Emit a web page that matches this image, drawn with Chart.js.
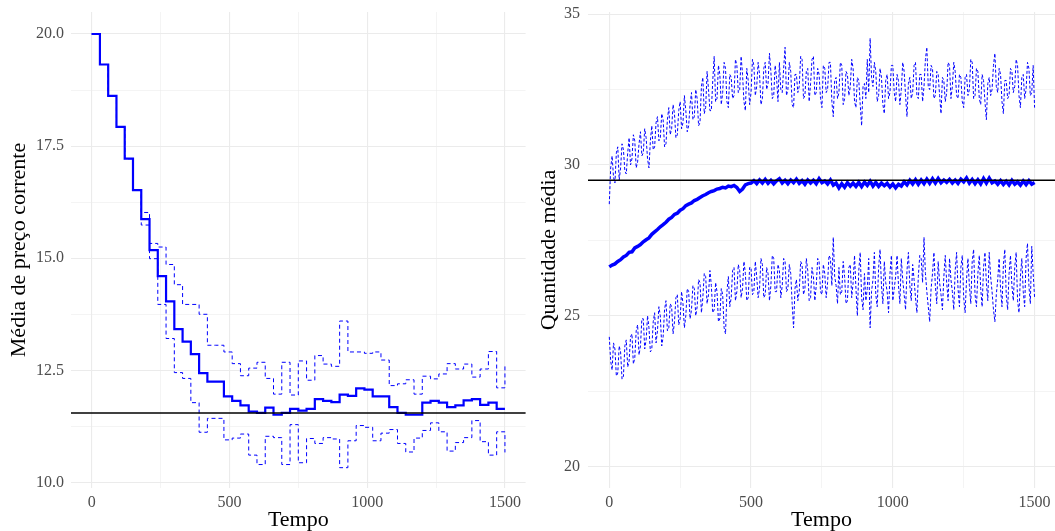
<!DOCTYPE html>
<html>
<head>
<meta charset="utf-8">
<script src="https://cdn.jsdelivr.net/npm/chart.js@4.4.1/dist/chart.umd.min.js"></script>
<style>
  body { margin: 0; background: #fff; width: 1055px; height: 531px; overflow: hidden; position: relative; }
  canvas { position: absolute; top: 0; }
  #preco { left: 0; }
  #quant { left: 530px; }
</style>
</head>
<body>
<canvas id="preco" width="530" height="531"></canvas>
<canvas id="quant" width="525" height="531"></canvas>
<script>
// painel esquerdo: preço corrente (degraus a cada 30 períodos)
const tempoP = [0, 30, 60, 90, 120, 150, 180, 210, 240, 270, 300, 330, 360, 390, 420, 450, 480, 510, 540, 570,
  600, 630, 660, 690, 720, 750, 780, 810, 840, 870, 900, 930, 960, 990, 1020, 1050, 1080, 1110, 1140, 1170,
  1200, 1230, 1260, 1290, 1320, 1350, 1380, 1410, 1440, 1470, 1500]
const precoMedio = [20.0, 19.32, 18.62, 17.93, 17.22, 16.52, 15.87, 15.18, 14.60, 14.04, 13.42, 13.14, 12.86, 12.44, 12.25, 12.25, 11.92, 11.82, 11.72, 11.58,
  11.55, 11.67, 11.51, 11.55, 11.64, 11.60, 11.64, 11.86, 11.82, 11.79, 11.96, 11.93, 12.10, 12.07, 11.92, 11.92, 11.68, 11.55, 11.51, 11.51,
  11.78, 11.82, 11.78, 11.68, 11.72, 11.83, 11.86, 11.73, 11.78, 11.64, 11.64]
const precoSup = [20.0, 19.32, 18.62, 17.93, 17.22, 16.52, 16.02, 15.33, 15.25, 14.86, 14.41, 13.97, 13.97, 13.75, 13.06, 13.06, 12.91, 12.65, 12.38, 12.55,
  12.68, 12.32, 11.97, 12.68, 11.95, 12.71, 12.28, 12.83, 12.64, 12.59, 13.60, 12.91, 12.91, 12.88, 12.91, 12.73, 12.16, 12.20, 12.29, 11.97,
  12.37, 12.31, 12.42, 12.65, 12.53, 12.64, 12.35, 12.53, 12.92, 12.11, 12.62]
const precoInf = [20.0, 19.32, 18.62, 17.93, 17.22, 16.52, 15.74, 14.99, 13.97, 13.21, 12.45, 12.32, 11.78, 11.12, 11.43, 11.43, 10.95, 10.99, 11.08, 10.61,
  10.40, 11.03, 11.00, 10.40, 11.29, 10.44, 10.98, 10.87, 11.00, 10.97, 10.33, 10.93, 11.27, 11.23, 10.93, 11.10, 11.18, 10.87, 10.68, 10.99,
  11.16, 11.33, 11.13, 10.70, 10.89, 11.00, 11.38, 10.91, 10.61, 11.13, 10.67]
const precoEquilibrio = 11.55
const ticksTempo = [0, 500, 1000, 1500]
const ticksPreco = [10, 12.5, 15, 17.5, 20]

// painel direito: quantidade média
// bandas: um valor a cada 5 períodos (uma linha = 100 períodos)
const passoBanda = 5
const quantSup = [
  28.7, 29.9, 30.3, 29.6, 29.4, 30.4, 30.6, 29.5, 29.9, 30.7, 30.5, 29.8, 29.7, 30.4, 30.9, 30.0, 30.2, 31.0, 30.8, 29.9,
  30.1, 30.7, 31.1, 30.3, 30.4, 31.2, 30.9, 30.2, 29.9, 30.8, 31.3, 30.5, 30.6, 31.4, 31.6, 30.8, 30.9, 31.7, 31.5, 30.6,
  30.7, 31.5, 31.9, 31.0, 31.2, 32.0, 31.7, 30.9, 31.0, 31.8, 32.1, 31.2, 31.4, 32.3, 31.8, 31.1, 31.3, 32.0, 32.4, 31.5,
  31.6, 32.5, 32.2, 31.3, 31.4, 32.6, 32.9, 31.7, 31.9, 33.1, 32.5, 31.8, 31.8, 32.8, 33.6, 32.1, 32.2, 33.3, 33.0, 32.0,
  32.4, 33.4, 33.2, 32.1, 31.9, 33.0, 32.9, 32.2, 32.3, 33.5, 33.3, 32.4, 32.5, 33.6, 33.0, 32.1, 31.8, 33.2, 32.8, 32.0,
  32.4, 33.5, 33.3, 32.3, 32.6, 33.4, 33.0, 32.0, 32.2, 33.2, 33.4, 32.5, 32.7, 33.7, 33.1, 32.2, 32.3, 33.3, 32.9, 32.1,
  33.4, 32.5, 32.4, 33.2, 33.9, 32.3, 32.5, 33.4, 33.1, 32.0, 31.9, 33.0, 33.0, 32.4, 32.6, 33.6, 33.5, 32.2, 32.3, 33.1,
  33.2, 32.1, 32.7, 33.5, 33.6, 32.3, 32.4, 33.2, 33.0, 32.2, 31.9, 33.3, 33.2, 32.4, 32.5, 33.4, 33.4, 32.1, 31.6, 32.8,
  32.9, 32.2, 32.4, 33.4, 33.3, 32.0, 32.2, 33.1, 33.0, 32.3, 32.6, 33.5, 33.2, 32.1, 31.9, 32.9, 32.8, 32.0, 31.3, 32.6,
  32.7, 32.2, 33.5, 32.4, 34.2, 32.9, 32.6, 33.4, 33.1, 32.1, 32.3, 33.2, 32.9, 32.0, 31.7, 32.8, 33.0, 32.2, 32.4, 33.3,
  33.3, 32.4, 32.1, 33.0, 32.8, 32.0, 32.5, 33.4, 33.1, 32.3, 31.6, 32.7, 32.9, 32.2, 32.4, 33.3, 33.4, 32.3, 32.2, 33.0,
  33.0, 32.1, 32.6, 33.5, 33.9, 32.6, 32.5, 33.3, 33.2, 32.2, 32.3, 33.1, 33.0, 32.3, 31.7, 32.9, 32.8, 32.1, 32.4, 33.4,
  33.3, 32.2, 32.6, 33.4, 33.1, 32.3, 32.2, 33.0, 32.9, 32.1, 31.9, 32.9, 33.0, 32.3, 32.5, 33.5, 33.4, 32.2, 32.3, 33.2,
  33.1, 32.2, 32.0, 33.0, 32.8, 32.1, 31.5, 32.7, 32.9, 32.3, 32.5, 33.3, 33.7, 32.6, 32.4, 33.2, 33.0, 32.1, 31.7, 32.8,
  32.8, 32.2, 32.3, 33.2, 33.1, 32.4, 32.6, 33.5, 33.3, 32.3, 31.9, 32.9, 33.0, 32.2, 32.5, 33.4, 33.2, 32.3, 32.4, 33.3,
  31.9]
const quantInf = [
  24.3, 23.5, 23.2, 24.1, 23.9, 23.0, 23.1, 24.0, 23.8, 22.9, 23.0, 24.0, 24.2, 23.3, 23.5, 24.3, 24.4, 23.4, 23.6, 24.5,
  24.7, 23.7, 24.0, 24.9, 24.9, 23.9, 24.2, 25.0, 24.6, 23.8, 23.9, 24.8, 25.1, 24.1, 24.5, 25.3, 25.0, 24.0, 24.3, 25.2,
  25.5, 24.5, 24.6, 25.4, 25.3, 24.4, 24.8, 25.6, 25.7, 24.7, 24.9, 25.8, 25.4, 24.6, 25.0, 25.9, 25.8, 24.9, 25.2, 26.0,
  25.9, 25.0, 25.3, 26.2, 26.1, 25.1, 25.6, 26.4, 26.3, 25.4, 25.7, 26.5, 26.0, 25.1, 25.2, 26.1, 25.8, 24.8, 24.9, 25.9,
  25.7, 24.6, 24.4, 25.8, 26.3, 25.3, 25.6, 26.5, 26.6, 25.5, 25.8, 26.7, 26.5, 25.6, 25.9, 26.8, 26.4, 25.5, 25.6, 26.6,
  26.6, 25.7, 25.8, 26.8, 26.3, 25.6, 25.9, 26.9, 26.7, 25.6, 25.7, 26.6, 26.4, 25.5, 26.0, 27.0, 26.9, 25.8, 25.8, 26.7,
  26.5, 25.6, 26.0, 26.9, 26.8, 25.8, 25.9, 26.7, 26.4, 25.4, 24.6, 25.9, 26.2, 25.5, 25.8, 26.8, 26.7, 25.7, 25.9, 26.9,
  26.5, 25.5, 25.6, 26.6, 26.3, 25.5, 26.0, 26.9, 26.8, 25.8, 25.7, 26.7, 26.4, 25.6, 26.1, 27.0, 26.9, 26.0, 27.6, 26.3,
  26.0, 25.4, 26.6, 25.7, 25.8, 26.8, 26.3, 25.4, 25.5, 26.6, 26.7, 25.6, 26.1, 27.0, 25.9, 25.0, 26.5, 27.1, 25.6, 25.2,
  26.4, 25.5, 25.9, 26.9, 24.6, 25.8, 26.2, 27.1, 25.7, 25.3, 26.6, 27.2, 26.0, 25.4, 26.8, 26.1, 25.8, 25.1, 26.4, 27.0,
  25.5, 25.9, 26.3, 27.0, 26.0, 25.4, 26.9, 26.2, 25.7, 25.2, 26.5, 27.1, 26.0, 25.5, 26.7, 26.2, 25.6, 25.1, 26.3, 27.0,
  26.9, 26.1, 27.6, 26.4, 25.8, 25.3, 24.8, 25.9, 26.4, 27.1, 26.0, 25.4, 26.8, 26.1, 25.7, 25.2, 26.3, 27.0, 26.1, 25.5,
  26.9, 26.2, 25.8, 25.2, 26.5, 27.1, 25.9, 25.3, 26.6, 27.0, 25.6, 25.1, 26.2, 26.9, 26.0, 25.4, 26.8, 27.2, 25.7, 25.3,
  26.4, 27.0, 25.9, 25.3, 26.6, 27.1, 26.1, 25.5, 27.1, 26.3, 25.8, 25.2, 24.8, 25.7, 26.2, 26.9, 25.9, 25.3, 26.7, 27.2,
  25.7, 25.2, 26.4, 27.0, 26.0, 25.5, 26.6, 27.1, 25.5, 25.1, 26.3, 26.9, 25.8, 25.3, 26.9, 27.4, 26.0, 25.4, 27.3, 26.4,
  25.6]
// média: um valor a cada 10 períodos
const passoMedia = 10
const quantMedia = [26.62, 26.68, 26.72, 26.80, 26.86, 26.95, 27.00, 27.10, 27.12, 27.25,
  27.30, 27.36, 27.45, 27.52, 27.58, 27.70, 27.78, 27.86, 27.95, 28.02,
  28.10, 28.20, 28.26, 28.36, 28.40, 28.50, 28.55, 28.65, 28.70, 28.74,
  28.82, 28.86, 28.92, 28.98, 29.02, 29.08, 29.12, 29.15, 29.20, 29.22,
  29.26, 29.24, 29.30, 29.28, 29.32, 29.25, 29.12, 29.20, 29.34, 29.38,
  29.40, 29.48, 29.38, 29.50, 29.40, 29.52, 29.39, 29.49, 29.37, 29.47,
  29.54, 29.40, 29.49, 29.38, 29.50, 29.41, 29.53, 29.39, 29.48, 29.36,
  29.50, 29.40, 29.49, 29.38, 29.54, 29.41, 29.47, 29.37, 29.50, 29.33,
  29.40, 29.24, 29.38, 29.26, 29.41, 29.30, 29.40, 29.29, 29.42, 29.28,
  29.43, 29.32, 29.46, 29.30, 29.42, 29.29, 29.40, 29.31, 29.39, 29.27,
  29.37, 29.24, 29.36, 29.30, 29.44, 29.34, 29.49, 29.37, 29.51, 29.36,
  29.50, 29.38, 29.53, 29.39, 29.54, 29.40, 29.55, 29.41, 29.50, 29.42,
  29.52, 29.40, 29.50, 29.39, 29.53, 29.44, 29.57, 29.40, 29.52, 29.38,
  29.51, 29.37, 29.55, 29.40, 29.56, 29.41, 29.47, 29.36, 29.48, 29.35,
  29.46, 29.34, 29.49, 29.36, 29.44, 29.33, 29.47, 29.35, 29.48, 29.36,
  29.42]
const quantEquilibrio = 29.49
const ticksQuant = [20, 25, 30, 35]

const AZUL = '#0000FF'
const SERIF = 'Liberation Serif'

// eixo estilo theme_minimal: grade principal + secundária no meio
function eixo(min, max, major, fmt, extra) {
  const minor = major.slice(1).map((v, i) => (v + major[i]) / 2)
  const todos = major.concat(minor).sort((a, b) => a - b)
  const { pad, tamanho, ...resto } = extra
  return Object.assign({
    type: 'linear', min, max,
    afterBuildTicks: s => { s.ticks = todos.map(v => ({ value: v })) },
    // tamanho fixo da caixa do eixo e sem folga extra pelos rótulos das pontas
    afterFit: s => {
      if (s.isHorizontal()) s.height = tamanho
      else s.width = tamanho
      s.paddingTop = 0; s.paddingBottom = 0; s.paddingLeft = 0; s.paddingRight = 0
    },
    grid: {
      color: '#EBEBEB', drawTicks: false,
      lineWidth: c => (c.tick && major.includes(c.tick.value)) ? 1.1 : 0.55
    },
    border: { display: false },
    ticks: {
      color: '#4D4D4D', font: { family: SERIF, size: 16 }, autoSkip: false, maxRotation: 0, padding: pad,
      callback: v => major.includes(v) ? fmt(v) : ''
    }
  }, resto)
}

function pontos(xs, ys) { return ys.map((y, i) => ({ x: xs[i], y })) }
function pontosPasso(ys, passo) { return ys.map((y, i) => ({ x: i * passo, y })) }
function linhaH(y) { return [{ x: -100, y }, { x: 1600, y }] }
function titulo(text, top, bottom) {
  return { display: true, text, color: '#000', font: { family: SERIF, size: 22 }, padding: { top, bottom } }
}

Chart.defaults.animation = false

// esquerda
new Chart(document.getElementById('preco'), {
  type: 'line',
  data: {
    datasets: [
      { data: linhaH(precoEquilibrio), borderColor: '#000', borderWidth: 1.6, pointRadius: 0 },
      { data: pontos(tempoP, precoMedio), borderColor: AZUL, borderWidth: 2.2, pointRadius: 0, stepped: true },
      { data: pontos(tempoP, precoSup), borderColor: AZUL, borderWidth: 1, borderDash: [4, 3], pointRadius: 0, stepped: true },
      { data: pontos(tempoP, precoInf), borderColor: AZUL, borderWidth: 1, borderDash: [4, 3], pointRadius: 0, stepped: true }
    ]
  },
  options: {
    responsive: false,
    layout: { padding: { top: 12, right: 4.4, left: 0, bottom: 0 } },
    plugins: { legend: { display: false }, tooltip: { enabled: false } },
    scales: {
      x: eixo(-75, 1575, ticksTempo, v => String(v), { pad: 5, tamanho: 43, title: titulo('Tempo', 0, -2) }),
      y: eixo(9.877, 20.49, ticksPreco, v => v.toFixed(1), { pad: 7, tamanho: 71, title: titulo('Média de preço corrente', 6.4, 0) })
    }
  }
})

// direita
new Chart(document.getElementById('quant'), {
  type: 'line',
  data: {
    datasets: [
      { data: linhaH(quantEquilibrio), borderColor: '#000', borderWidth: 1.6, pointRadius: 0 },
      { data: pontosPasso(quantMedia, passoMedia), borderColor: AZUL, borderWidth: 3.5, pointRadius: 0 },
      { data: pontosPasso(quantSup, passoBanda), borderColor: AZUL, borderWidth: 1, borderDash: [3, 2], pointRadius: 0 },
      { data: pontosPasso(quantInf, passoBanda), borderColor: AZUL, borderWidth: 1, borderDash: [3, 2], pointRadius: 0 }
    ]
  },
  options: {
    responsive: false,
    layout: { padding: { top: 12, right: 0, left: 0, bottom: 0 } },
    plugins: { legend: { display: false }, tooltip: { enabled: false } },
    scales: {
      x: eixo(-75, 1572, ticksTempo, v => String(v), { pad: 5, tamanho: 43, title: titulo('Tempo', 0, -2) }),
      y: eixo(19.29, 35.07, ticksQuant, v => String(v), { pad: 8, tamanho: 58, title: titulo('Quantidade média', 5.8, 0) })
    }
  }
})
</script>
</body>
</html>
